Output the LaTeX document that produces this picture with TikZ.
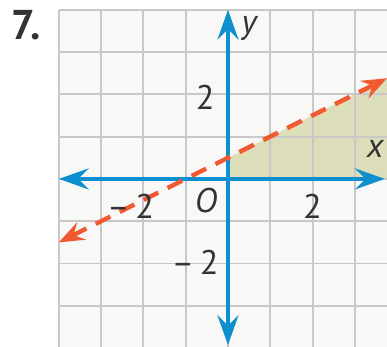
\documentclass[tikz,border=0pt]{standalone}
\usepackage{fontspec}
\setmainfont{PT Sans}
\usetikzlibrary{arrows.meta}
\definecolor{axisblue}{HTML}{0E8FD0}
\definecolor{bndred}{HTML}{F15A31}
\definecolor{shadeolive}{HTML}{DCDDB9}
\definecolor{gridgray}{HTML}{C8C8C8}
\definecolor{paper}{HTML}{F8F8F6}
\definecolor{txtdark}{HTML}{333333}

\begin{document}
\begin{tikzpicture}[font=\fontsize{23}{26}\selectfont,
  gridln/.style={draw=gridgray,line width=1.3pt},
  axis/.style={draw=axisblue,line width=3.2pt,
    {Stealth[length=20pt,width=14pt,inset=7pt]}-{Stealth[length=20pt,width=14pt,inset=7pt]}},
  bnd/.style={draw=bndred,line width=3pt,dash pattern=on 11pt off 7pt,
    {Stealth[length=17pt,width=13pt,inset=6pt]}-{Stealth[length=17pt,width=13pt,inset=6pt]}},
  lbl/.style={text=txtdark,inner sep=0pt},
  ital/.style={lbl,font=\fontsize{23}{26}\selectfont\itshape}]

  \useasboundingbox (-5.39,-3.97) rectangle (3.76,4.23);
  \clip (-5.39,-3.97) rectangle (3.76,4.23);

  % graph paper
  \fill[paper] (-4,-4) rectangle (4,4);
  \fill[shadeolive] (0,0) -- (0,0.5) -- (4,2.5) -- (4,0) -- cycle;
  \foreach \k in {-4,...,4} {
    \draw[gridln] (\k,-4) -- (\k,4);
    \draw[gridln] (-4,\k) -- (4,\k);
  }

  % axes
  \coordinate (xl) at (-4,0);
  \coordinate (xr) at (3.71,0);
  \coordinate (yb) at (0,-3.93);
  \coordinate (yt) at (0,4);
  \draw[axis] (xl) -- (xr);
  \draw[axis] (yb) -- (yt);

  % boundary y = x/2 + 1/2
  \coordinate (bl) at (-4,-1.5);
  \coordinate (br) at (3.76,2.38);
  \draw[bnd] (bl) -- (br);

  \node[ital] (ylab) at (0.5,3.55) {y};
  \node[ital] (xlab) at (3.48,0.72) {x};
  \node[ital] (olab) at (-0.52,-0.52) {O};
  \node[lbl] (ytwo) at (-0.54,1.94) {2};
  \node[lbl] (xtwo) at (2,-0.64) {2};
  \node[lbl] (xmtwo) at (-2.3,-0.66) {–\,2};
  \node[lbl] (ymtwo) at (-0.78,-1.98) {–\,2};
  \node[lbl,font=\fontsize{28}{30}\selectfont\bfseries] (num) at (-4.78,3.64) {7.};
\end{tikzpicture}
\end{document}
